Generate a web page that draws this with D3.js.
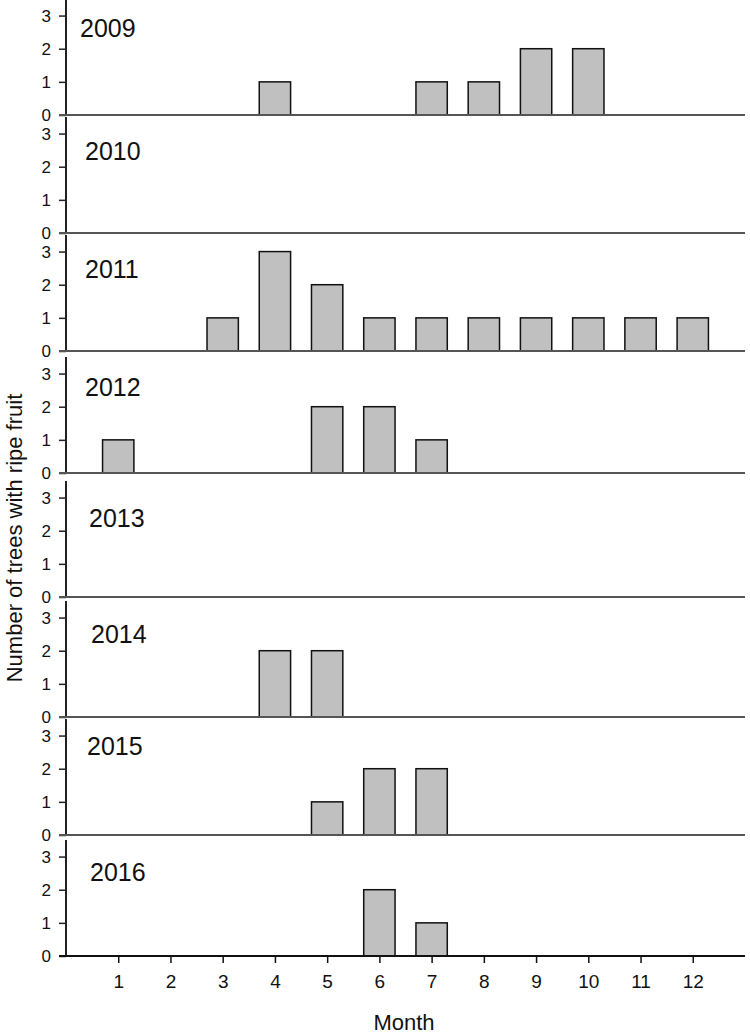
<!DOCTYPE html>
<html>
<head>
<meta charset="utf-8">
<script src="https://cdn.jsdelivr.net/npm/d3@7"></script>
<style>
  html, body { margin: 0; padding: 0; background: #fff; }
  svg text { font-family: Arial, "Liberation Sans", sans-serif; fill: #111; }
</style>
</head>
<body>
<svg id="chart" width="750" height="1034"></svg>
<script>
// ---- data ----
const years = ["2009", "2010", "2011", "2012", "2013", "2014", "2015", "2016"];
const months = [1, 2, 3, 4, 5, 6, 7, 8, 9, 10, 11, 12];
const yTicks = [0, 1, 2, 3];
const counts2009 = [0, 0, 0, 1, 0, 0, 1, 1, 2, 2, 0, 0];
const counts2010 = [0, 0, 0, 0, 0, 0, 0, 0, 0, 0, 0, 0];
const counts2011 = [0, 0, 1, 3, 2, 1, 1, 1, 1, 1, 1, 1];
const counts2012 = [1, 0, 0, 0, 2, 2, 1, 0, 0, 0, 0, 0];
const counts2013 = [0, 0, 0, 0, 0, 0, 0, 0, 0, 0, 0, 0];
const counts2014 = [0, 0, 0, 2, 2, 0, 0, 0, 0, 0, 0, 0];
const counts2015 = [0, 0, 0, 0, 1, 2, 2, 0, 0, 0, 0, 0];
const counts2016 = [0, 0, 0, 0, 0, 2, 1, 0, 0, 0, 0, 0];
const seriesByYear = [counts2009, counts2010, counts2011, counts2012, counts2013, counts2014, counts2015, counts2016];
const xTitle = "Month";
const yTitle = "Number of trees with ripe fruit";

// ---- layout ----
const panelBaselines = [115, 233, 351, 473, 597, 717, 835, 956];
const labelPos = [[80, 78], [85, 73], [85, 73], [85, 77], [89, 70], [91, 74], [87, 80], [90, 75]];
const panelH = 116;
const xLeft = 66, xRight = 745;
const FONT = "Arial, 'Liberation Sans', sans-serif";

const svg = d3.select("#chart");
const x = d3.scaleLinear().domain([0, 13]).range([xLeft, xRight]);
const barW = (x(1) - x(0)) * 0.6;

years.forEach((yr, i) => {
  const base = panelBaselines[i];
  const y = d3.scaleLinear().domain([0, 3.5]).range([base, base - panelH]);
  const g = svg.append("g");
  const vals = seriesByYear[i];

  // bars
  g.selectAll("rect.bar")
    .data(months.map((m, j) => ({ m, v: vals[j] })).filter(d => d.v > 0))
    .enter().append("rect")
    .attr("class", "bar")
    .attr("x", d => x(d.m) - barW / 2)
    .attr("y", d => y(d.v))
    .attr("width", barW)
    .attr("height", d => y(0) - y(d.v))
    .attr("fill", "#c0c0c0")
    .attr("stroke", "#111")
    .attr("stroke-width", 1.5);

  // left axis
  const yAxis = d3.axisLeft(y).tickValues(yTicks).tickSize(7).tickPadding(8).tickFormat(d3.format("d"));
  const ya = g.append("g").attr("transform", `translate(${xLeft},0)`).call(yAxis);
  ya.select(".domain").remove();
  ya.selectAll(".tick line").attr("stroke", "#222").attr("stroke-width", 1.5);
  ya.selectAll(".tick text").attr("font-size", 17).attr("fill", "#111").style("font-family", FONT);
  g.append("line")
    .attr("x1", xLeft).attr("x2", xLeft)
    .attr("y1", y(3.5)).attr("y2", y(0))
    .attr("stroke", "#222").attr("stroke-width", 2);

  // baseline
  const last = i === years.length - 1;
  g.append("line")
    .attr("x1", xLeft - 7).attr("x2", xRight)
    .attr("y1", y(0)).attr("y2", y(0))
    .attr("stroke", last ? "#111" : "#555").attr("stroke-width", 2);

  // year label
  g.append("text")
    .attr("x", labelPos[i][0]).attr("y", base - labelPos[i][1])
    .attr("font-size", 25)
    .text(yr);

  if (last) {
    const xAxis = d3.axisBottom(x).tickValues(months).tickSize(7).tickPadding(12).tickFormat(d3.format("d"));
    const xa = g.append("g").attr("transform", `translate(0,${base})`).call(xAxis);
    xa.select(".domain").remove();
    xa.selectAll(".tick line").attr("stroke", "#111").attr("stroke-width", 1.5);
    xa.selectAll(".tick text").attr("font-size", 19).attr("fill", "#111").style("font-family", FONT);
  }
});

// axis titles
svg.append("text")
  .attr("x", 404).attr("y", 1030)
  .attr("text-anchor", "middle").attr("font-size", 22)
  .text(xTitle);
svg.append("text")
  .attr("transform", "translate(22,538) rotate(-90)")
  .attr("text-anchor", "middle").attr("font-size", 22)
  .text(yTitle);
</script>
</body>
</html>
